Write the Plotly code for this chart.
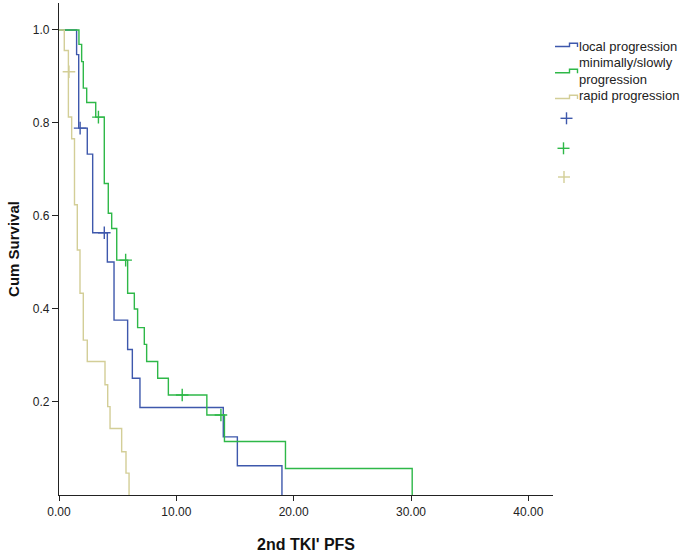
import plotly.graph_objects as go

# ---- data (Kaplan-Meier step functions) ----
local_t = [0, 1.50, 1.68, 2.41, 2.87, 4.12, 4.69, 5.85, 6.25, 6.90, 14.0, 15.2, 19.0]
local_s = [1.0, 0.947, 0.789, 0.733, 0.564, 0.501, 0.376, 0.313, 0.251, 0.188, 0.125, 0.063, 0.0]
local_cens_t = [1.80, 3.86]
local_cens_s = [0.789, 0.564]

slow_t = [0, 1.70, 1.93, 2.07, 2.36, 3.13, 3.86, 4.20, 4.49, 4.92, 5.85, 6.42, 6.70, 7.27, 7.47, 8.41, 9.32, 12.6, 14.1, 19.3, 30.1]
slow_s = [1.0, 0.969, 0.932, 0.875, 0.844, 0.8125, 0.670, 0.606, 0.573, 0.505, 0.434, 0.400, 0.360, 0.324, 0.287, 0.251, 0.215, 0.172, 0.115, 0.057, 0.0]
slow_cens_t = [3.36, 5.68, 10.5, 13.8]
slow_cens_s = [0.8125, 0.505, 0.215, 0.172]

rapid_t = [0, 0.45, 0.80, 1.08, 1.32, 1.56, 1.79, 2.07, 2.41, 3.92, 4.15, 4.35, 5.34, 5.71, 5.97]
rapid_s = [1.0, 0.956, 0.813, 0.766, 0.624, 0.527, 0.434, 0.333, 0.287, 0.237, 0.190, 0.143, 0.093, 0.047, 0.0]
rapid_cens_t = [0.85]
rapid_cens_s = [0.91]

group_names = ["local progression", "minimally/slowly<br>progression", "rapid progression"]
colors = ["#3E58AC", "#2EB848", "#D3CE97"]

x_ticks = [0, 10, 20, 30, 40]
x_tick_text = ["0.00", "10.00", "20.00", "30.00", "40.00"]
y_ticks = [0.2, 0.4, 0.6, 0.8, 1.0]
y_tick_text = ["0.2", "0.4", "0.6", "0.8", "1.0"]

FONT = "Liberation Sans, Arial, sans-serif"
W, H = 685, 553
L, R, T, B = 59, 132, 3, 58

fig = go.Figure()
curves = [(local_t, local_s, local_cens_t, local_cens_s),
          (slow_t, slow_s, slow_cens_t, slow_cens_s),
          (rapid_t, rapid_s, rapid_cens_t, rapid_cens_s)]
for (t, s, ct, cs), c in zip(curves, colors):
    fig.add_trace(go.Scatter(x=t, y=s, mode="lines", line=dict(color=c, width=1.4, shape="hv"),
                             showlegend=False, hoverinfo="skip"))
    fig.add_trace(go.Scatter(x=ct, y=cs, mode="markers",
                             marker=dict(symbol="cross-thin", size=9, line=dict(color=c, width=1.4)),
                             showlegend=False, hoverinfo="skip"))

# legend (drawn manually to mimic the step-icon legend)
def px(x):
    return (x - L) / (W - L - R)

def py(y):
    return (H - B - y) / (H - T - B)

shapes = []
annotations = []
icon_rows = [(46.5, 43.3), (72.7, 69.3), (98.5, 95.3)]
text_y = [46, 70.5, 96]
for (lo, hi), c, name, ty in zip(icon_rows, colors, group_names, text_y):
    path = "M {} {} L {} {} L {} {} L {} {} L {} {}".format(
        px(555), py(lo), px(569.5), py(lo), px(569.5), py(hi), px(577.5), py(hi), px(577.5), py(lo + 0.5))
    shapes.append(dict(type="path", xref="paper", yref="paper", path=path,
                       line=dict(color=c, width=1.4)))
    annotations.append(dict(xref="paper", yref="paper", x=px(576.5), y=py(ty), text=name,
                            showarrow=False, xanchor="left", yanchor="middle", align="left",
                            font=dict(family=FONT, size=13, color="#222222")))
plus_pos = [(566.5, 118.3), (563.5, 148.3), (564, 177)]
for (cx, cy), c in zip(plus_pos, colors):
    shapes.append(dict(type="line", xref="paper", yref="paper", x0=px(cx - 6), x1=px(cx + 6),
                       y0=py(cy), y1=py(cy), line=dict(color=c, width=1.4)))
    shapes.append(dict(type="line", xref="paper", yref="paper", x0=px(cx), x1=px(cx),
                       y0=py(cy - 6), y1=py(cy + 6), line=dict(color=c, width=1.4)))

fig.update_layout(
    width=W, height=H,
    margin=dict(l=L, r=R, t=T, b=B, autoexpand=False),
    paper_bgcolor="white", plot_bgcolor="white",
    font=dict(family=FONT, size=11, color="#222222"),
    shapes=shapes, annotations=annotations,
    xaxis=dict(range=[0, 42.1], tickvals=x_ticks, ticktext=x_tick_text, automargin=False,
               showline=True, linecolor="#222222", linewidth=1.3, ticks="outside",
               ticklen=5, tickcolor="#222222", showgrid=False, zeroline=False,
               tickfont=dict(family=FONT, size=12, color="#222222"),
               title=dict(text="<b>2nd TKI' PFS</b>", font=dict(family=FONT, size=16, color="#111111"),
                          standoff=21)),
    yaxis=dict(range=[0, 1.058], tickvals=y_ticks, ticktext=y_tick_text, automargin=False,
               showline=True, linecolor="#222222", linewidth=1.3, ticks="outside",
               ticklen=6, tickcolor="#222222", showgrid=False, zeroline=False,
               tickfont=dict(family=FONT, size=12, color="#222222"),
               title=dict(text="<b>Cum Survival</b>", font=dict(family=FONT, size=15, color="#111111"),
                          standoff=9)),
)

fig.write_html("out.html", config={"displayModeBar": False},
               post_script="document.body.style.margin='0px';document.body.style.overflow='hidden';")
